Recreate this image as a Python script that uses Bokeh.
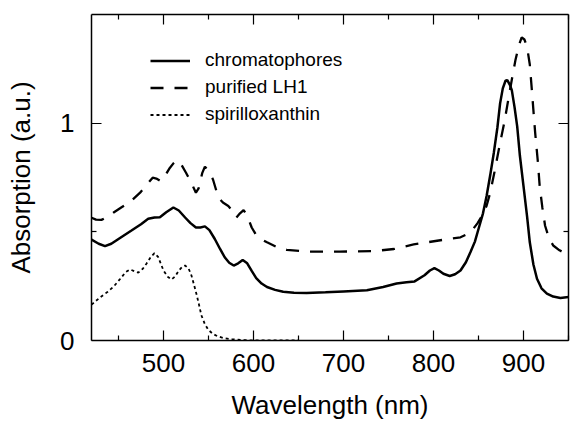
from bokeh.plotting import figure
from bokeh.models import (ColumnDataSource, Range1d, LinearAxis, FixedTicker,
                          Legend, LegendItem)
from bokeh.embed import file_html
from bokeh.resources import INLINE

# ---- data ----
chrom_wl = [420, 428, 435, 442, 450, 464, 475, 483, 490, 496, 503, 511, 517, 524, 530,
            536, 541, 546, 551, 557, 563, 568, 573, 578, 583, 588, 593, 598, 603, 609,
            615, 624, 633, 645, 659, 680, 700, 726, 744, 759, 770, 779, 790, 796, 801,
            806, 811, 818, 824, 830, 836, 841, 846, 850, 855, 859, 863, 867, 871, 874,
            877, 880, 882, 885, 887, 890, 893, 896, 900, 904, 907, 911, 915, 920, 926,
            933, 941, 950]
chrom_abs = [0.464, 0.445, 0.434, 0.445, 0.467, 0.505, 0.535, 0.560, 0.566, 0.567, 0.590,
             0.612, 0.598, 0.566, 0.540, 0.520, 0.520, 0.525, 0.508, 0.467, 0.420, 0.383,
             0.358, 0.345, 0.355, 0.370, 0.355, 0.320, 0.287, 0.262, 0.246, 0.233, 0.224,
             0.220, 0.219, 0.222, 0.226, 0.231, 0.246, 0.262, 0.268, 0.272, 0.300, 0.322,
             0.333, 0.322, 0.307, 0.297, 0.305, 0.322, 0.360, 0.406, 0.455, 0.513, 0.585,
             0.665, 0.760, 0.863, 0.980, 1.091, 1.160, 1.195, 1.198, 1.175, 1.152, 1.075,
             0.985, 0.850, 0.710, 0.570, 0.452, 0.350, 0.284, 0.240, 0.216, 0.202, 0.196,
             0.200]

lh1_wl = [420, 425, 431, 438, 445, 453, 463, 474, 482, 488, 492, 497, 502, 507, 511, 515,
          519, 525, 531, 536, 539, 543, 546, 550, 555, 561, 566, 572, 577, 581, 585, 589,
          593, 598, 603, 609, 615, 625, 637, 659, 696, 733, 756, 778, 804, 830, 838, 844,
          849, 854, 859, 863, 868, 874, 879, 883, 887, 891, 895, 898, 901, 904, 907, 909,
          911, 913, 916, 918, 921, 924, 928, 933, 940, 950]
lh1_abs = [0.565, 0.556, 0.555, 0.569, 0.590, 0.612, 0.638, 0.680, 0.720, 0.749, 0.745,
           0.733, 0.760, 0.794, 0.815, 0.829, 0.815, 0.772, 0.725, 0.680, 0.700, 0.770,
           0.800, 0.780, 0.741, 0.657, 0.635, 0.619, 0.595, 0.566, 0.585, 0.600, 0.575,
           0.520, 0.485, 0.465, 0.452, 0.432, 0.417, 0.409, 0.409, 0.411, 0.421, 0.442,
           0.459, 0.475, 0.490, 0.513, 0.540, 0.574, 0.620, 0.680, 0.780, 0.909, 1.010,
           1.106, 1.200, 1.289, 1.360, 1.395, 1.385, 1.350, 1.270, 1.167, 1.060, 0.954,
           0.820, 0.710, 0.610, 0.528, 0.475, 0.437, 0.415, 0.394]

spx_wl = [420, 430, 438, 445, 452, 458, 463, 468, 472, 477, 481, 486, 490, 494, 500, 505,
          509, 513, 517, 521, 524, 528, 531, 534, 537, 540, 542, 546, 550, 555, 561, 568,
          576, 590, 600, 650]
spx_abs = [0.165, 0.200, 0.224, 0.250, 0.284, 0.315, 0.327, 0.318, 0.312, 0.330, 0.353,
           0.385, 0.402, 0.385, 0.322, 0.292, 0.281, 0.295, 0.322, 0.340, 0.345, 0.330,
           0.300, 0.255, 0.208, 0.155, 0.117, 0.075, 0.048, 0.030, 0.018, 0.010, 0.006,
           0.002, 0.0, 0.0]

x_major = [500, 600, 700, 800, 900]
x_minor = [450, 550, 650, 750, 850, 950]
y_major = [0, 1]
y_minor = [0.5]
labels = ["chromatophores", "purified LH1", "spirilloxanthin"]

FONT = "Liberation Sans"

p = figure(width=570, height=422, output_backend="svg", toolbar_location=None,
           x_range=Range1d(420, 950), y_range=Range1d(0, 1.5),
           min_border_left=91, min_border_right=2, min_border_top=14,
           min_border_bottom=80)
p.grid.visible = False
p.outline_line_color = None
p.background_fill_color = "white"
p.border_fill_color = "white"

s1 = ColumnDataSource(dict(x=chrom_wl, y=chrom_abs))
s2 = ColumnDataSource(dict(x=lh1_wl, y=lh1_abs))
s3 = ColumnDataSource(dict(x=spx_wl, y=spx_abs))

r1 = p.line("x", "y", source=s1, line_color="black", line_width=2.5)
r2 = p.line("x", "y", source=s2, line_color="black", line_width=2.3, line_dash="13 11")
r3 = p.line("x", "y", source=s3, line_color="black", line_width=1.8, line_dash="3 3")


def style_axis(ax, show_labels):
    ax.axis_line_color = "black"
    ax.axis_line_width = 1.5
    ax.major_tick_line_color = "black"
    ax.minor_tick_line_color = "black"
    ax.major_tick_line_width = 1.2
    ax.minor_tick_line_width = 1.2
    ax.major_tick_in = 10
    ax.major_tick_out = 0
    ax.minor_tick_in = 5
    ax.minor_tick_out = 0
    ax.major_label_text_font = FONT
    ax.major_label_text_color = "black"
    ax.axis_label_text_font = FONT
    ax.axis_label_text_font_style = "normal"
    ax.axis_label_text_color = "black"
    ax.axis_label_text_font_size = "26px"
    if show_labels:
        ax.major_label_text_font_size = "26px"
    else:
        ax.major_label_text_font_size = "0px"
        ax.major_label_standoff = 0


xa = p.xaxis[0]
xa.ticker = FixedTicker(ticks=x_major, minor_ticks=x_minor)
xa.axis_label = "Wavelength (nm)"
style_axis(xa, True)
xa.major_label_standoff = 13
xa.axis_label_standoff = 15

ya = p.yaxis[0]
ya.ticker = FixedTicker(ticks=y_major, minor_ticks=y_minor)
ya.axis_label = "Absorption (a.u.)"
style_axis(ya, True)
ya.major_label_standoff = 17
ya.axis_label_standoff = 21

top = LinearAxis(ticker=FixedTicker(ticks=x_major, minor_ticks=x_minor))
style_axis(top, False)
top.major_label_overrides = {v: "" for v in x_major}
p.add_layout(top, "above")

right = LinearAxis(ticker=FixedTicker(ticks=y_major, minor_ticks=y_minor))
style_axis(right, False)
right.major_label_overrides = {v: "" for v in y_major}
p.add_layout(right, "right")

legend = Legend(items=[LegendItem(label=labels[0], renderers=[r1]),
                       LegendItem(label=labels[1], renderers=[r2]),
                       LegendItem(label=labels[2], renderers=[r3])],
                location=(59, 215))
legend.border_line_color = None
legend.background_fill_alpha = 0
legend.label_text_font = FONT
legend.label_text_font_size = "19px"
legend.label_text_color = "black"
legend.glyph_width = 40
legend.glyph_height = 21
legend.label_height = 21
legend.label_standoff = 15
legend.spacing = 5
legend.padding = 0
legend.margin = 0
p.add_layout(legend, "center")

open("out.html", "w").write(file_html(p, INLINE))
